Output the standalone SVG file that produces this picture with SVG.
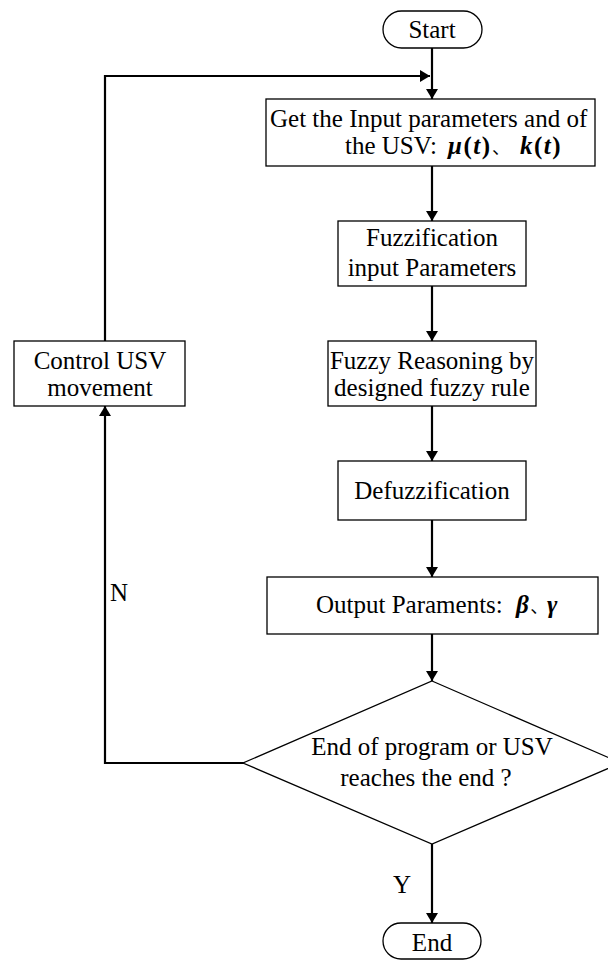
<svg xmlns="http://www.w3.org/2000/svg" width="608" height="960" viewBox="0 0 608 960">
<style>
.box{fill:#fff;stroke:#000;stroke-width:1.3}
.t{font-family:"Liberation Serif","Times New Roman",serif;font-size:25px;fill:#000}
.m{font-family:"Liberation Serif","Times New Roman",serif;font-weight:bold;font-style:italic;letter-spacing:1.5px}
.p{font-family:"Liberation Serif",serif;font-weight:bold;font-style:normal}
.cjk{font-family:"Noto Sans CJK SC",sans-serif;font-style:normal;font-weight:normal;font-size:18px}
.c{text-anchor:middle}
.ln{fill:none;stroke:#000;stroke-width:2.2}
</style>
<defs>
<marker id="ah" viewBox="0 0 10 12" refX="10" refY="6" markerWidth="10" markerHeight="12" markerUnits="userSpaceOnUse" orient="auto">
<path d="M0,0 L10,6 L0,12 z" fill="#000"/>
</marker>
</defs>
<rect width="608" height="960" fill="#fff"/>
<g id="connectors">
<line class="ln" x1="432" y1="48" x2="432" y2="99" marker-end="url(#ah)"/>
<line class="ln" x1="432" y1="166" x2="432" y2="221" marker-end="url(#ah)"/>
<line class="ln" x1="432" y1="286" x2="432" y2="341" marker-end="url(#ah)"/>
<line class="ln" x1="432" y1="406" x2="432" y2="461" marker-end="url(#ah)"/>
<line class="ln" x1="432" y1="520" x2="432" y2="577" marker-end="url(#ah)"/>
<line class="ln" x1="432" y1="634" x2="432" y2="681" marker-end="url(#ah)"/>
<line class="ln" x1="432" y1="844" x2="432" y2="923" marker-end="url(#ah)"/>
<polyline class="ln" points="105,341 105,76 430,76" marker-end="url(#ah)"/>
<polyline class="ln" points="245,763 105,763 105,406" marker-end="url(#ah)"/>
<text class="t" x="110" y="601">N</text>
<text class="t" x="393" y="893">Y</text>
</g>
<g id="start">
<rect class="box" x="383" y="11" width="99" height="37" rx="18.5"/>
<text class="t c" x="432" y="38">Start</text>
</g>
<g id="get-input">
<rect class="box" x="266" y="99" width="329" height="67"/>
<text class="t" x="270" y="127">Get the Input parameters and of</text>
<text class="t" x="345" y="154">the USV: <tspan class="m" x="448">μ</tspan><tspan class="p m">(</tspan><tspan class="m">t</tspan><tspan class="p m">)</tspan><tspan class="cjk" x="492">、</tspan><tspan class="m" x="520">k</tspan><tspan class="p m">(</tspan><tspan class="m">t</tspan><tspan class="p m">)</tspan></text>
</g>
<g id="fuzzification">
<rect class="box" x="338" y="221" width="188" height="65"/>
<text class="t c" x="432" y="246">Fuzzification</text>
<text class="t c" x="432" y="276">input Parameters</text>
</g>
<g id="reasoning">
<rect class="box" x="328" y="341" width="208" height="65"/>
<text class="t c" x="432" y="369">Fuzzy Reasoning by</text>
<text class="t c" x="432" y="396">designed fuzzy rule</text>
</g>
<g id="defuzzification">
<rect class="box" x="338" y="461" width="188" height="59"/>
<text class="t c" x="432" y="499">Defuzzification</text>
</g>
<g id="output">
<rect class="box" x="267" y="577" width="331" height="57"/>
<text class="t" x="316" y="613">Output Paraments:  <tspan class="m" x="516">β</tspan><tspan class="cjk">、</tspan><tspan class="m" x="547">γ</tspan></text>
</g>
<g id="decision">
<polygon class="box" points="432,681 621,763 432,844 243,763"/>
<text class="t c" x="432" y="755">End of program or USV</text>
<text class="t c" x="426" y="786">reaches the end ?</text>
</g>
<g id="control">
<rect class="box" x="14" y="341" width="171" height="65"/>
<text class="t c" x="100" y="369">Control USV</text>
<text class="t c" x="100" y="396">movement</text>
</g>
<g id="end">
<rect class="box" x="383" y="923" width="98" height="36" rx="18"/>
<text class="t c" x="432" y="951">End</text>
</g>
</svg>
